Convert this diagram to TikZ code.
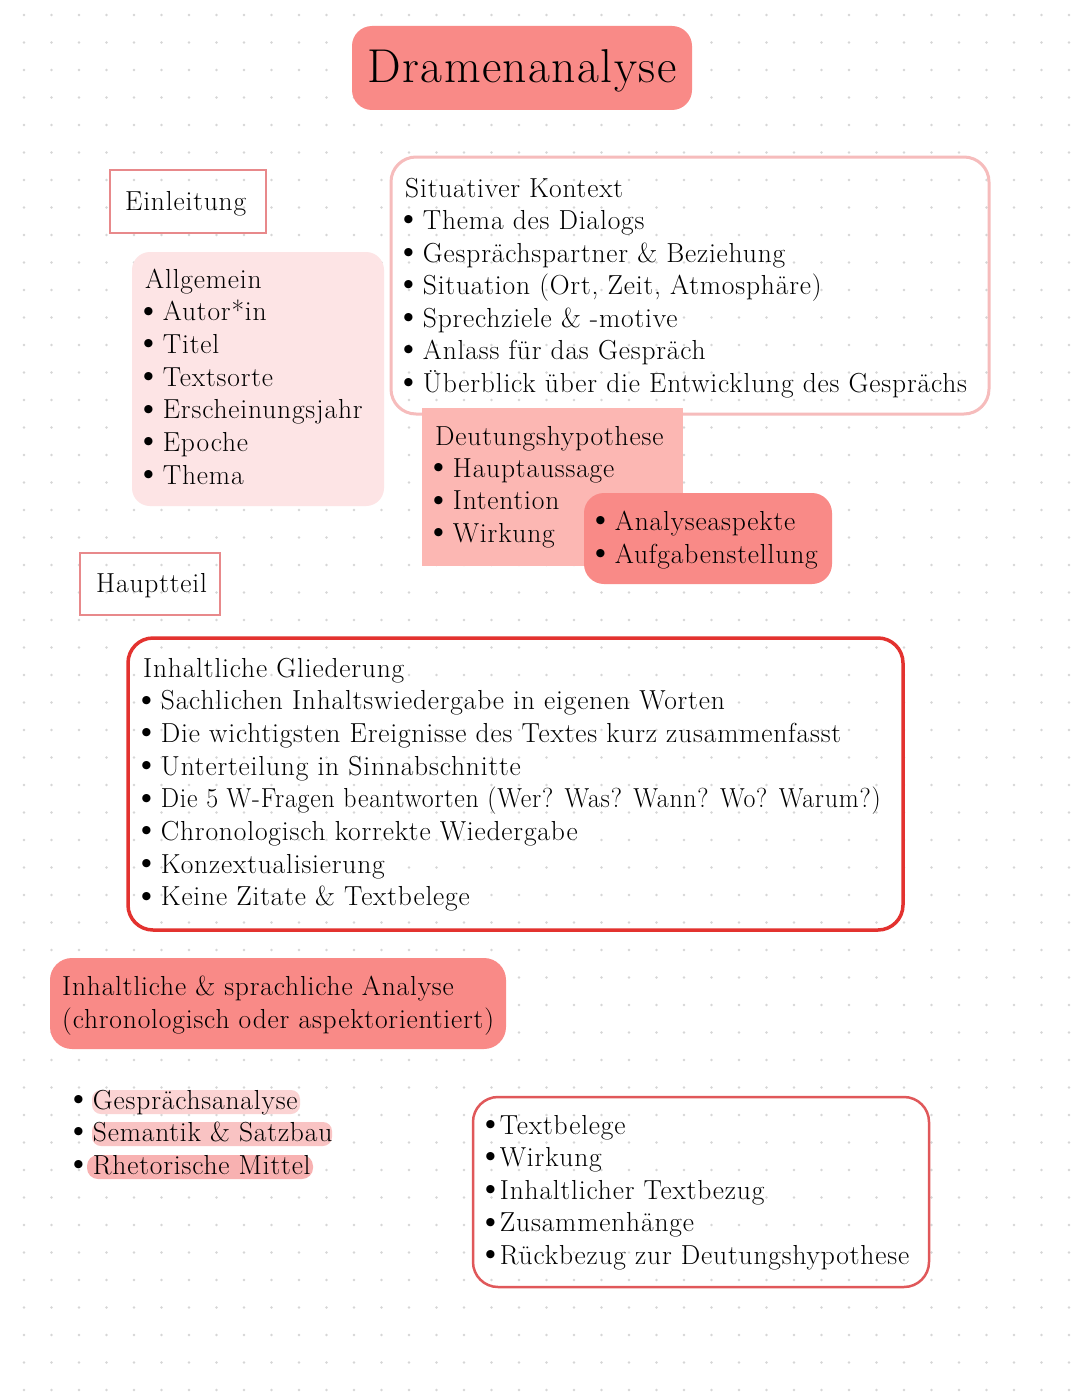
\documentclass[tikz,border=0pt]{standalone}
\usepackage{fontspec}
\usepackage{graphicx}
\setmainfont{Latin Modern Roman}[LetterSpace=3]
\newcommand\bul{\hspace*{-10pt}\raisebox{-0.3pt}{\scalebox{1.35}{\textbullet}}\hspace*{1pt}}
\newcommand\bulc{\hspace*{-10pt}\raisebox{-0.3pt}{\scalebox{1.35}{\textbullet}}\hspace*{-4pt}}
\definecolor{dotc}{HTML}{D6D6D6}
\definecolor{salmon}{HTML}{F98A87}
\definecolor{palepink}{HTML}{FDE4E5}
\definecolor{midpink}{HTML}{FCB7B3}
\definecolor{ctxline}{HTML}{F6BCBC}
\definecolor{lblline}{HTML}{E8898B}
\definecolor{redline}{HTML}{E3322F}
\definecolor{redline2}{HTML}{E0585A}
\definecolor{hlA}{HTML}{FBD3D3}
\definecolor{hlB}{HTML}{F9C3C3}
\definecolor{hlC}{HTML}{F8B1B1}
\tikzset{
  txt/.style={anchor=base west, inner sep=0pt, font=\fontsize{27.5}{32.7}\selectfont, text=black},
  title/.style={anchor=base, inner sep=0pt, font=\fontsize{47.5}{52}\selectfont, text=black},
  lbl/.style={draw=lblline, line width=2.5pt},
}
\begin{document}
\begin{tikzpicture}[x=1pt,y=-1pt]
\useasboundingbox (0,0) rectangle (1080,1394);
\fill[white] (0,0) rectangle (1080,1394);
% dot grid
\foreach \i in {0,...,38}{
  \foreach \j in {0,...,50}{
    \fill[dotc] (24+27.5*\i, 15+27.5*\j) circle (1.3);
  }
}
% title
\fill[salmon, rounded corners=20pt] (352,26) rectangle (692,110);
\node[title] (title) at (522,83) {Dramenanalyse};
% Einleitung
\draw[lbl] (110,170) rectangle (266,233);
\node[txt] (einl) at (125,210) {Einleitung};
% Allgemein
\fill[palepink, rounded corners=18pt] (132,252) rectangle (384,506);
\foreach \t [count=\i from 0] in {Allgemein, \bul Autor*in, \bul Titel, \bul Textsorte, \bul Erscheinungsjahr, \bul Epoche, \bul Thema}{
  \node[txt] (allg\i) at (145, 288+32.7*\i) {\t};
}
% Situativer Kontext
\draw[ctxline, line width=3pt, rounded corners=25pt] (391,157) rectangle (989,414);
\foreach \t [count=\i from 0] in {Situativer Kontext, \bul Thema des Dialogs, \bul Gesprächspartner \& Beziehung, {\bul Situation (Ort, Zeit, Atmosphäre)}, \bul Sprechziele \& -motive, \bul Anlass für das Gespräch, \bul Überblick über die Entwicklung des Gesprächs}{
  \node[txt] (sit\i) at (405, 197+32.5*\i) {\t};
}
% Deutungshypothese
\fill[midpink] (422,408) rectangle (683,566);
\foreach \t [count=\i from 0] in {Deutungshypothese, \bul Hauptaussage, \bul Intention, \bul Wirkung}{
  \node[txt] (deut\i) at (435, 445+32.4*\i) {\t};
}
% Analyseaspekte
\fill[salmon, rounded corners=20pt] (584,493) rectangle (832,584);
\node[txt] (ana0) at (597,530) {\bul Analyseaspekte};
\node[txt] (ana1) at (597,563) {\bul Aufgabenstellung};
% Hauptteil
\draw[lbl] (80,553) rectangle (220,615);
\node[txt] (haupt) at (96,592) {Hauptteil};
% Inhaltliche Gliederung
\draw[redline, line width=3.5pt, rounded corners=25pt] (128,638) rectangle (903,930);
\foreach \t [count=\i from 0] in {Inhaltliche Gliederung, \bul Sachlichen Inhaltswiedergabe in eigenen Worten, \bul Die wichtigsten Ereignisse des Textes kurz zusammenfasst, \bul Unterteilung in Sinnabschnitte, \bul\scalebox{0.94}[1]{Die 5 W-Fragen beantworten (Wer? Was? Wann? Wo? Warum?)}, \bul Chronologisch korrekte Wiedergabe, \bul Konzextualisierung, \bul Keine Zitate \& Textbelege}{
  \node[txt] (glied\i) at (143, 677+32.7*\i) {\t};
}
% Analyse box
\fill[salmon, rounded corners=22pt] (50,958) rectangle (506,1049);
\node[txt] (analyse0) at (62,995) {Inhaltliche \& sprachliche Analyse};
\node[txt] (analyse1) at (62,1028) {(chronologisch oder aspektorientiert)};
% highlighted list
\fill[hlA, rounded corners=9pt] (92,1090) rectangle (300,1114);
\fill[hlB, rounded corners=9pt] (92,1122) rectangle (332,1146);
\fill[hlC, rounded corners=11pt] (87,1155) rectangle (313,1179);
\node[txt] (hl0) at (75,1109) {\bul Gesprächsanalyse};
\node[txt] (hl1) at (75,1141) {\bul Semantik \& Satzbau};
\node[txt] (hl2) at (75,1174) {\bul Rhetorische Mittel};
% Textbelege box
\draw[redline2, line width=2.5pt, rounded corners=25pt] (473,1097) rectangle (929,1287);
\foreach \t [count=\i from 0] in {\bulc Textbelege, \bulc Wirkung, \bulc Inhaltlicher Textbezug, \bulc Zusammenhänge, \bulc Rückbezug zur Deutungshypothese}{
  \node[txt] (beleg\i) at (487, 1134+32.6*\i) {\t};
}
\end{tikzpicture}
\end{document}
